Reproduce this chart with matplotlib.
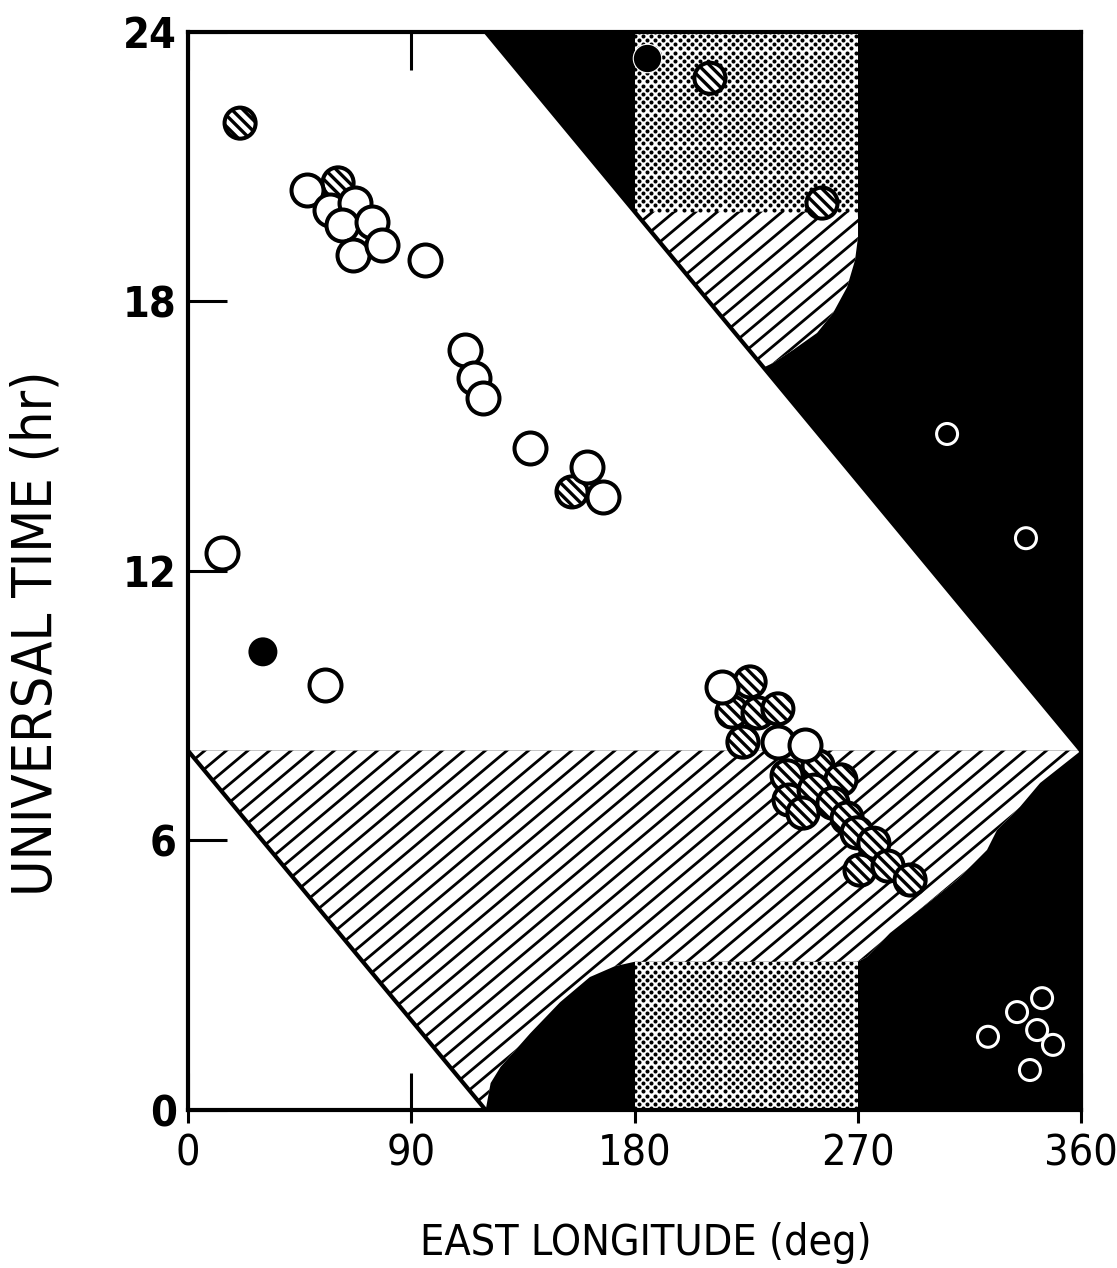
import matplotlib
matplotlib.use('Agg')
import matplotlib as mpl
import matplotlib.pyplot as plt
import numpy as np
import os
from matplotlib.patches import Polygon, Rectangle
from matplotlib.collections import LineCollection
from matplotlib import font_manager

# --- Datos (longitud este en grados, tiempo universal en horas) ---
# circulos abiertos (blancos)
abiertos_lon = [48.0, 57.2, 67.3, 62.1, 74.2, 66.5, 78.2, 95.5, 111.7, 115.3, 118.9,
                137.9, 160.9, 167.3, 13.7, 55.2, 215.3, 237.8, 248.7]
abiertos_ut = [20.48, 20.04, 20.19, 19.70, 19.77, 19.03, 19.26, 18.92, 16.92, 16.30, 15.85,
               14.74, 14.31, 13.65, 12.40, 9.46, 9.42, 8.19, 8.13]

# circulos rayados
rayados_lon = [21.0, 60.5, 154.8, 210.4, 255.6, 226.6, 219.3, 229.8, 237.8, 223.7, 241.5,
               254.0, 263.2, 242.3, 252.4, 247.9, 260.0, 265.7, 269.7, 276.5, 270.9, 282.2, 291.1]
rayados_ut = [21.97, 20.64, 13.76, 22.97, 20.19, 9.53, 8.86, 8.84, 8.93, 8.19, 7.44,
              7.66, 7.35, 6.90, 7.12, 6.61, 6.83, 6.50, 6.17, 5.94, 5.34, 5.43, 5.12]

# circulos negros
negros_lon = [30.2, 185.0]
negros_ut = [10.20, 23.42]

# circulos blancos sobre la zona negra
nocturnos_lon = [306.0, 337.8, 322.5, 334.2, 344.3, 342.3, 348.7, 339.4]
nocturnos_ut = [15.05, 12.73, 1.63, 2.18, 2.49, 1.78, 1.45, 0.89]

# --- Zonas ---
diag_sup_lon = [120, 360]
diag_sup_ut = [24, 8]
diag_inf_lon = [0, 120]
diag_inf_ut = [8, 0]
ut_borde = 8
curva_izq_lon = [120, 122, 126, 138, 150, 162, 172, 180]
curva_izq_ut = [0, 0.6, 0.96, 1.71, 2.4, 2.96, 3.2, 3.3]
curva_der_lon = [270, 273.7, 283.0, 296.3, 310.0, 322.1, 326.1, 335.4, 343.5, 360]
curva_der_ut = [3.3, 3.41, 3.94, 4.52, 5.12, 5.79, 6.23, 6.75, 7.28, 8.0]
curva_sup_lon = [270, 270.1, 270.1, 268.9, 265.7, 260.0, 253.6, 243.9, 235.8, 232.0]
curva_sup_ut = [20.0, 19.88, 19.43, 18.92, 18.32, 17.74, 17.30, 16.92, 16.63, 16.53]
trama_lon = [180, 270]
trama_sup_ut = [20, 24]
trama_inf_ut = [0, 3.3]

ticks_lon = [0, 90, 180, 270, 360]
ticks_ut = [0, 6, 12, 18, 24]

mpl.rcParams['hatch.linewidth'] = 2.4
mpl.rcParams['hatch.color'] = 'black'


def buscar_estrecha(negrita):
    """Busca una fuente condensada/estrecha instalada; None si no hay."""
    for f in font_manager.fontManager.ttflist:
        base = os.path.basename(f.fname)
        if not ('Narrow' in base or 'Condensed' in base or 'Narrow' in f.name):
            continue
        if 'Italic' in base or 'Oblique' in base:
            continue
        es_bold = 'Bold' in base and not any(k in base for k in ('SemiBold', 'ExtraBold', 'Semibold'))
        if negrita == es_bold and not any(k in base for k in ('Light', 'Thin', 'Black', 'Medium', 'SemiBold', 'ExtraBold', 'Semibold')):
            return font_manager.FontProperties(fname=f.fname)
    return None


fp_reg = buscar_estrecha(False)
fp_bold = buscar_estrecha(True)
hay_estrecha = fp_reg is not None
if fp_reg is None:
    fp_reg = font_manager.FontProperties(family='DejaVu Sans')
if fp_bold is None:
    fp_bold = font_manager.FontProperties(family='DejaVu Sans', weight='bold')

fig = plt.figure(figsize=(11.17, 12.68), dpi=100)
ax = fig.add_axes([0.1683, 0.1246, 0.7995, 0.8502])
ax.set_xlim(0, 360)
ax.set_ylim(0, 24)
ax.set_facecolor('black')

# zona diurna blanca
dia = Polygon([(0, ut_borde), (0, 24), (diag_sup_lon[0], diag_sup_ut[0]),
               (diag_sup_lon[1], diag_sup_ut[1])], closed=True, fc='white', ec='none', zorder=1)
ax.add_patch(dia)
tri = Polygon([(0, 0), (diag_inf_lon[0], diag_inf_ut[0]), (diag_inf_lon[1], diag_inf_ut[1])],
              closed=True, fc='white', ec='none', zorder=1)
ax.add_patch(tri)

# zona rayada inferior
vx = [0, 360] + curva_der_lon[::-1][1:] + curva_izq_lon[::-1]
vy = [ut_borde, ut_borde] + curva_der_ut[::-1][1:] + curva_izq_ut[::-1]
ray_inf = Polygon(list(zip(vx, vy)), closed=True, fc='white', ec='none', zorder=2)
ax.add_patch(ray_inf)

# zona rayada superior
vx = [trama_lon[0]] + curva_sup_lon
vy = [trama_sup_ut[0]] + curva_sup_ut
ray_sup = Polygon(list(zip(vx, vy)), closed=True, fc='white', ec='none', zorder=2)
ax.add_patch(ray_sup)

# lineas de rayado (angulo ~40 grados en pantalla)
pend = np.tan(np.radians(40)) * (893 / 360) / (1078 / 24)
paso = 8.7
segs = []
for c in np.arange(-540, 370, paso):
    segs.append([(c, 0), (c + 540, 540 * pend)])
for poly in (ray_inf, ray_sup):
    lc = LineCollection(segs, colors='black', linewidths=2.0, zorder=3)
    ax.add_collection(lc)
    lc.set_clip_path(poly)

# zonas punteadas
dx, dy = 3.3, 0.092
for y0, y1 in (trama_sup_ut, trama_inf_ut):
    rect = Rectangle((trama_lon[0], y0), trama_lon[1] - trama_lon[0], y1 - y0,
                     fc='white', ec='none', zorder=2)
    ax.add_patch(rect)
    px, py = [], []
    for i, yy in enumerate(np.arange(y0 + dy / 2, y1 + dy, dy)):
        cols = np.arange(trama_lon[0], trama_lon[1] + dx, dx) + (dx / 2 if i % 2 else 0)
        px.extend(cols)
        py.extend([yy] * len(cols))
    pts = ax.scatter(px, py, s=8.5, c='black', lw=0, zorder=3)
    pts.set_clip_path(rect)

# lineas diagonales
ax.plot(diag_sup_lon, diag_sup_ut, color='black', lw=3, zorder=4)
ax.plot(diag_inf_lon, diag_inf_ut, color='black', lw=3, zorder=4)

# marcadores
ax.scatter(rayados_lon, rayados_ut, s=500, facecolor='white', edgecolor='black',
           linewidths=2.9, hatch='\\\\\\', zorder=5, clip_on=False)
ax.scatter(abiertos_lon, abiertos_ut, s=530, facecolor='white', edgecolor='black',
           linewidths=2.9, zorder=6, clip_on=False)
ax.scatter(negros_lon[:1], negros_ut[:1], s=435, facecolor='black', edgecolor='none', zorder=6)
ax.scatter(negros_lon[1:], negros_ut[1:], s=420, facecolor='black', edgecolor='white',
           linewidths=0.8, zorder=6)
ax.scatter(nocturnos_lon, nocturnos_ut, s=228, facecolor='none', edgecolor='white',
           linewidths=2.2, zorder=6)

# ejes
for sp in ax.spines.values():
    sp.set_linewidth(3)
    sp.set_zorder(7)
ax.set_xticks(ticks_lon)
ax.set_yticks(ticks_ut)
ax.xaxis.set_minor_locator(mpl.ticker.FixedLocator(ticks_lon))
ax.xaxis.remove_overlapping_locs = False
ax.tick_params(axis='x', which='major', direction='in', length=27, width=2.2,
               top=True, pad=16)
ax.tick_params(axis='x', which='minor', direction='out', length=9, width=2.2)
ax.tick_params(axis='y', which='major', direction='in', length=28, width=2.2, pad=8)

tam_x = 31 if hay_estrecha else 26
tam_y = 31 if hay_estrecha else 26
for t in ax.get_xticklabels():
    t.set_fontproperties(fp_reg)
    t.set_fontsize(tam_x)
for t in ax.get_yticklabels():
    t.set_fontproperties(fp_bold)
    t.set_fontsize(tam_y)

etq_x = fig.text(646 / 1117, 1 - 1243 / 1268, 'EAST LONGITUDE (deg)', ha='center', va='center',
                 fontproperties=fp_reg)
etq_x.set_fontsize(32)
etq_y = fig.text(37 / 1117, 1 - 633 / 1268, 'UNIVERSAL TIME (hr)', ha='center', va='center',
                 rotation=90, fontproperties=fp_reg)
etq_y.set_fontsize(38)

# ajustar tamano de las etiquetas al ancho medido (limitando la altura de letra)
fig.canvas.draw()
r = fig.canvas.get_renderer()
w = etq_x.get_window_extent(r).width
etq_x.set_fontsize(min(32 * 452 / w, 34))
h = etq_y.get_window_extent(r).height
etq_y.set_fontsize(min(38 * 643 / h, 40))

fig.savefig('out.png', dpi=100, facecolor='white')
